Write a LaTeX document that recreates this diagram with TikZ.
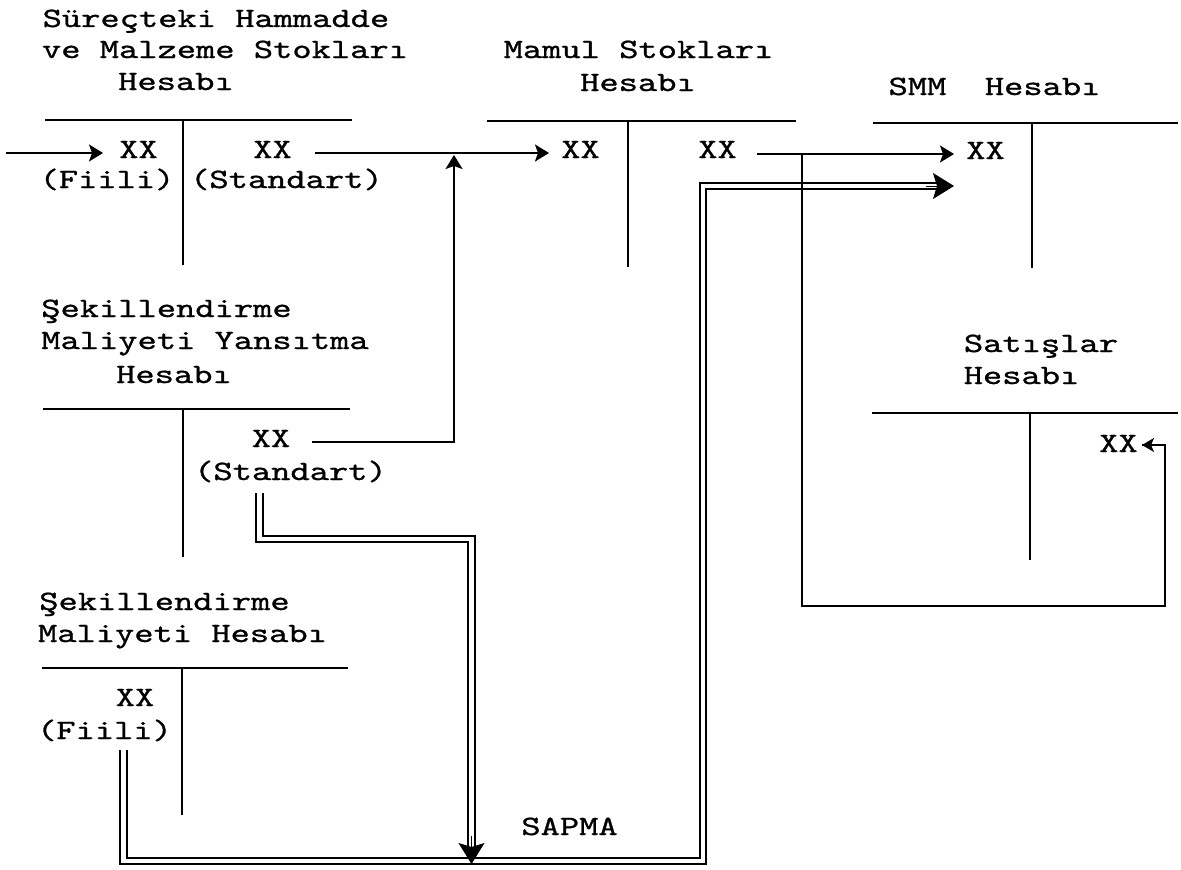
\documentclass[tikz,border=0pt]{standalone}
\usepackage{graphicx}
\usepackage{fontspec}
\newfontfamily\twf[FakeBold=0.8]{lmmono10-regular.otf}
\usetikzlibrary{arrows.meta}
\newcommand\tws[1]{\scalebox{1.31}[1]{#1}}
\begin{document}
\begin{tikzpicture}[x=1pt,y=-1pt,
  txt/.style={inner sep=0pt, anchor=base, font=\twf\fontsize{28}{28}\selectfont},
  tline/.style={line width=2pt},
  conn/.style={line width=1.7pt},
  arr/.style={conn,-{Stealth[length=14pt,width=17pt,inset=3pt]}},
  dbl/.style={line width=1.8pt, double, double distance=4.5pt},
  dblarr/.style={line width=1pt,-{Stealth[length=21pt,width=26pt,inset=4pt]}},
]
\useasboundingbox[fill=white] (0,0) rectangle (1181,870);

% Account 1
\node[txt] (t1a) at (216,27) {\tws{Süreçteki Hammadde}};
\node[txt] (t1b) at (225,58) {\tws{ve Malzeme Stokları}};
\node[txt] (t1c) at (176,90) {\tws{Hesabı}};
\node[txt] (a1l) at (138.5,158) {\tws{XX}};
\node[txt] (a1lf) at (107,188) {\tws{(Fiili)}};
\node[txt] (a1r) at (272.5,158) {\tws{XX}};
\node[txt] (a1rs) at (286.5,188) {\tws{(Standart)}};
\draw[tline] (45,120) -- (352,120);
\draw[tline] (183,120) -- (183,265);

% Account 2 Mamul
\node[txt] (t2a) at (638.5,58) {\tws{Mamul Stokları}};
\node[txt] (t2b) at (638,91) {\tws{Hesabı}};
\node[txt] (a2l) at (580.5,158) {\tws{XX}};
\node[txt] (a2r) at (717.5,158) {\tws{XX}};
\draw[tline] (487,121) -- (796,121);
\draw[tline] (628,121) -- (628,267);

% Account 3 SMM
\node[txt] (t3) at (994.5,95) {\tws{SMM\ \ Hesabı}};
\node[txt] (a3) at (985.5,159) {\tws{XX}};
\draw[tline] (873,123) -- (1178,123);
\draw[tline] (1032,123) -- (1032,268);

% Account 4 Satislar
\node[txt] (t4a) at (1041,352) {\tws{Satışlar}};
\node[txt] (t4b) at (1021.5,384) {\tws{Hesabı}};
\node[txt] (a4) at (1118.5,452) {\tws{XX}};
\draw[tline] (872,413) -- (1178,413);
\draw[tline] (1030,413) -- (1030,560);

% Account 5 Yansitma
\node[txt] (t5a) at (166.5,317) {\tws{Şekillendirme}};
\node[txt] (t5b) at (205,349) {\tws{Maliyeti Yansıtma}};
\node[txt] (t5c) at (174,383) {\tws{Hesabı}};
\node[txt] (a5) at (271,447) {\tws{XX}};
\node[txt] (a5s) at (290.5,480) {\tws{(Standart)}};
\draw[tline] (43,409) -- (350,409);
\draw[tline] (183,409) -- (183,557);

% Account 6
\node[txt] (t6a) at (164.5,610) {\tws{Şekillendirme}};
\node[txt] (t6b) at (182.5,642) {\tws{Maliyeti Hesabı}};
\node[txt] (a6) at (135,706) {\tws{XX}};
\node[txt] (a6f) at (104.5,739) {\tws{(Fiili)}};
\draw[tline] (42,668) -- (348,668);
\draw[tline] (182,668) -- (182,815);

\node[txt] (sapma) at (569.5,835) {\tws{SAPMA}};

% single connectors
\coordinate (in0) at (6,153); \coordinate (in1) at (103,153);
\draw[arr] (in0) -- (in1);
\coordinate (c1s) at (315,153); \coordinate (c1e) at (549,153);
\draw[arr] (c1s) -- (c1e);
\coordinate (c2s) at (312,442); \coordinate (c2k) at (454,442); \coordinate (c2e) at (454,155);
\draw[arr] (c2s) -- (c2k) -- (c2e);
\coordinate (c3s) at (757,154); \coordinate (c3e) at (954,154);
\draw[arr] (c3s) -- (c3e);

% double connectors
\coordinate (d1s) at (259.5,493); \coordinate (d1a) at (259.5,539);
\coordinate (d1b) at (471.5,539); \coordinate (d1c) at (471.5,852);
\coordinate (d1h) at (471.5,836); \coordinate (d1t) at (471.5,864);
\coordinate (d2s) at (123.5,750); \coordinate (d2a) at (123.5,861);
\coordinate (d2b) at (703,861); \coordinate (d2c) at (703,186);
\coordinate (d2d) at (942,186); \coordinate (d2h) at (926,186); \coordinate (d2t) at (954,186);
\draw[dbl] (d2s) -- (d2a) -- (d2b) -- (d2c) -- (d2d);
\draw[dblarr] (d2h) -- (d2t);
\draw[dbl] (d1s) -- (d1a) -- (d1b) -- (d1c);
\draw[dblarr] (d1h) -- (d1t);

% loop to Satislar
\coordinate (c4s) at (802,154); \coordinate (c4a) at (802,606);
\coordinate (c4b) at (1165,606); \coordinate (c4c) at (1165,445); \coordinate (c4e) at (1142,445);
\draw[conn] (c4s) -- (c4a) -- (c4b) -- (c4c) -- (c4e);
\draw[conn,-{Stealth[length=12pt,width=14pt,inset=3pt]}] (c4c) -- (c4e);
\end{tikzpicture}
\end{document}
